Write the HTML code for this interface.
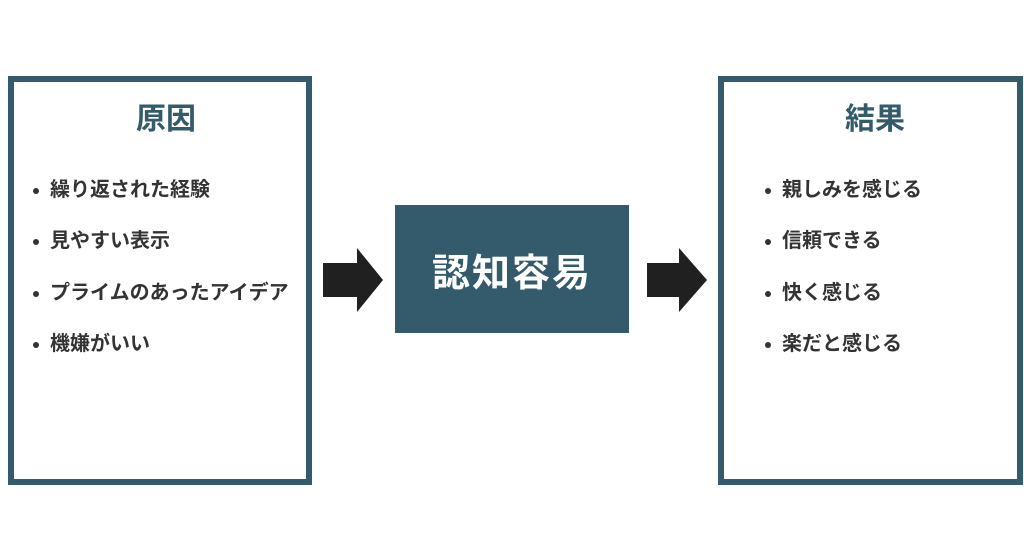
<!DOCTYPE html>
<html><head><meta charset="utf-8"><style>
body{margin:0;width:1024px;height:538px;background:#fff;position:relative;overflow:hidden;font-family:"Liberation Sans","Noto Sans CJK JP",sans-serif;}
.box{position:absolute;border:6px solid #335b6c;box-sizing:border-box;}
.t{position:absolute;font-weight:bold;color:#335b6c;font-size:30px;line-height:1;}
.i{position:absolute;font-weight:bold;color:#333;font-size:20px;line-height:1;white-space:nowrap;}
.i:before{content:"";position:absolute;left:-17px;top:8px;width:6px;height:6px;border-radius:50%;background:#333;}
</style></head><body>
<div class="box" style="left:8px;top:76px;width:304px;height:409px"></div>
<div class="box" style="left:718px;top:76px;width:305px;height:409px"></div>
<div class="t" style="left:136px;top:105px">原因</div>
<div class="t" style="left:845px;top:105px">結果</div>
<div class="i" style="left:50px;top:180px">繰り返された経験</div>
<div class="i" style="left:50px;top:231px">見やすい表示</div>
<div class="i" style="left:50px;top:283px">プライムのあったアイデア</div>
<div class="i" style="left:50px;top:334px">機嫌がいい</div>
<div class="i" style="left:782px;top:180px">親しみを感じる</div>
<div class="i" style="left:782px;top:231px">信頼できる</div>
<div class="i" style="left:782px;top:283px">快く感じる</div>
<div class="i" style="left:782px;top:334px">楽だと感じる</div>
<div style="position:absolute;left:395px;top:205px;width:234px;height:128px;background:#335b6c;color:#fff;font-weight:bold;font-size:38px;display:flex;align-items:center;justify-content:center;letter-spacing:2px;padding-top:0">認知容易</div>
<svg width="1024" height="538" style="position:absolute;left:0;top:0">
<polygon points="323,263 357,263 357,248 383,280 357,312 357,297 323,297" fill="#1f201f"/>
<polygon points="647,263 679,263 679,248 707,280 679,312 679,297 647,297" fill="#1f201f"/>
</svg>
</body></html>
